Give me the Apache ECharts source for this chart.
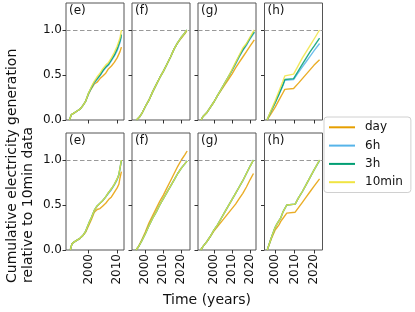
<!DOCTYPE html>
<html>
<head>
<meta charset="utf-8">
<script src="https://cdn.jsdelivr.net/npm/echarts@6/dist/echarts.min.js"></script>
<style>html,body{margin:0;padding:0;background:#fff}#c{width:415px;height:312px}</style>
</head>
<body>
<div id="c"></div>
<script>
// ---------------- data ----------------
const seriesNames = ['day', '6h', '3h', '10min'];
const panelLabels = ['(e)', '(f)', '(g)', '(h)'];
const yTicks = [0, 0.5, 1.0];
const yRange = [0, 1.3];
const refLevel = 1.0;

const xTicksE = [2000, 2010];
const xTicksFGH = [2000, 2010, 2020];
const xRangeE = [1992.1, 2012.4];
const xRangeF = [1992.6, 2024.8];
const xRangeG = [1991.2, 2023.3];
const xRangeH = [1994.6, 2024.3];

// top row
const yearsTopE = [1993.3, 1994, 1995, 1996, 1997, 1998, 1999, 2000, 2001, 2002, 2003, 2004, 2005, 2006, 2007, 2008, 2009, 2010, 2011, 2011.5];
const dayTopE  = [0, 0.06, 0.08, 0.10, 0.12, 0.16, 0.21, 0.29, 0.35, 0.40, 0.42, 0.46, 0.49, 0.52, 0.57, 0.60, 0.64, 0.69, 0.76, 0.81];
const h6TopE   = [0, 0.06, 0.08, 0.10, 0.12, 0.16, 0.21, 0.29, 0.36, 0.41, 0.45, 0.49, 0.54, 0.58, 0.61, 0.66, 0.71, 0.77, 0.86, 0.93];
const h3TopE   = [0, 0.06, 0.08, 0.10, 0.12, 0.16, 0.21, 0.30, 0.36, 0.42, 0.46, 0.50, 0.55, 0.59, 0.62, 0.67, 0.72, 0.79, 0.88, 0.95];
const m10TopE  = [0, 0.06, 0.08, 0.10, 0.12, 0.16, 0.21, 0.30, 0.37, 0.43, 0.48, 0.52, 0.57, 0.61, 0.64, 0.69, 0.75, 0.82, 0.91, 1.00];

const yearsTopF = [1995.1, 1996, 1997, 1998, 2000, 2002, 2004, 2006, 2008, 2010, 2012, 2014, 2016, 2018, 2020, 2022, 2023];
const dayTopF  = [0, 0.02, 0.04, 0.07, 0.15, 0.22, 0.31, 0.39, 0.47, 0.54, 0.62, 0.70, 0.79, 0.86, 0.91, 0.96, 0.99];
const h6TopF   = [0, 0.02, 0.04, 0.07, 0.15, 0.22, 0.31, 0.39, 0.47, 0.54, 0.62, 0.70, 0.79, 0.86, 0.92, 0.97, 1.00];
const h3TopF   = [0, 0.02, 0.04, 0.07, 0.15, 0.22, 0.31, 0.39, 0.47, 0.54, 0.62, 0.70, 0.79, 0.86, 0.92, 0.97, 1.00];
const m10TopF  = [0, 0.02, 0.04, 0.07, 0.15, 0.22, 0.31, 0.39, 0.47, 0.54, 0.62, 0.70, 0.79, 0.86, 0.92, 0.97, 1.00];

const yearsTopG = [1992.9, 1994, 1996, 1998, 2000, 2002, 2004, 2006, 2008, 2010, 2012, 2014, 2016, 2018, 2020, 2022, 2022.4];
const dayTopG  = [0, 0.04, 0.08, 0.14, 0.20, 0.27, 0.33, 0.39, 0.45, 0.51, 0.58, 0.64, 0.70, 0.76, 0.82, 0.88, 0.89];
const h6TopG   = [0, 0.04, 0.08, 0.14, 0.20, 0.27, 0.34, 0.41, 0.48, 0.55, 0.62, 0.70, 0.77, 0.83, 0.90, 0.96, 0.97];
const h3TopG   = [0, 0.04, 0.08, 0.14, 0.20, 0.27, 0.34, 0.41, 0.48, 0.55, 0.63, 0.71, 0.78, 0.84, 0.91, 0.97, 0.98];
const m10TopG  = [0, 0.04, 0.08, 0.14, 0.20, 0.27, 0.34, 0.41, 0.48, 0.56, 0.64, 0.72, 0.80, 0.85, 0.92, 0.99, 1.00];

const yearsTopH = [1995.9, 1998, 2000, 2002, 2004, 2005, 2009.5, 2012, 2014, 2016, 2018, 2020, 2022.8];
const dayTopH  = [0, 0.07, 0.14, 0.22, 0.30, 0.34, 0.35, 0.41, 0.46, 0.51, 0.56, 0.61, 0.67];
const h6TopH   = [0, 0.10, 0.19, 0.28, 0.38, 0.44, 0.45, 0.53, 0.59, 0.65, 0.71, 0.77, 0.85];
const h3TopH   = [0, 0.10, 0.19, 0.29, 0.39, 0.45, 0.46, 0.55, 0.62, 0.69, 0.76, 0.82, 0.91];
const m10TopH  = [0, 0.11, 0.21, 0.32, 0.43, 0.49, 0.51, 0.61, 0.69, 0.76, 0.83, 0.90, 1.00];

// bottom row
const yearsBotE = [1993.6, 1994.2, 1995, 1996, 1997, 1998, 1999, 2000, 2001, 2002, 2003, 2004, 2005, 2006, 2007, 2008, 2009, 2010, 2010.6, 2011, 2011.5];
const dayBotE  = [0, 0.07, 0.09, 0.11, 0.13, 0.16, 0.20, 0.27, 0.34, 0.42, 0.45, 0.46, 0.49, 0.52, 0.56, 0.59, 0.64, 0.69, 0.73, 0.80, 0.87];
const h6BotE   = [0, 0.07, 0.09, 0.11, 0.13, 0.16, 0.21, 0.29, 0.36, 0.44, 0.49, 0.52, 0.55, 0.59, 0.63, 0.67, 0.72, 0.78, 0.83, 0.90, 0.99];
const h3BotE   = [0, 0.07, 0.09, 0.11, 0.13, 0.16, 0.21, 0.29, 0.36, 0.44, 0.49, 0.52, 0.55, 0.59, 0.64, 0.68, 0.73, 0.79, 0.84, 0.91, 1.00];
const m10BotE  = [0, 0.07, 0.09, 0.11, 0.13, 0.16, 0.21, 0.29, 0.36, 0.44, 0.49, 0.52, 0.55, 0.59, 0.64, 0.68, 0.73, 0.79, 0.84, 0.91, 1.00];

const yearsBotF = [1994.8, 1996, 1998, 2000, 2002, 2004, 2006, 2008, 2010, 2012, 2014, 2016, 2018, 2020, 2022, 2023.2];
const dayBotF  = [0, 0.03, 0.11, 0.20, 0.30, 0.38, 0.46, 0.54, 0.61, 0.69, 0.77, 0.85, 0.93, 1.00, 1.06, 1.10];
const h6BotF   = [0, 0.03, 0.10, 0.18, 0.27, 0.35, 0.42, 0.50, 0.57, 0.64, 0.71, 0.78, 0.85, 0.91, 0.96, 0.99];
const h3BotF   = [0, 0.03, 0.10, 0.18, 0.27, 0.35, 0.42, 0.50, 0.57, 0.64, 0.71, 0.78, 0.85, 0.91, 0.96, 0.99];
const m10BotF  = [0, 0.03, 0.10, 0.18, 0.27, 0.35, 0.42, 0.50, 0.57, 0.64, 0.71, 0.78, 0.85, 0.91, 0.96, 0.99];

const yearsBotG = [1992.7, 1994, 1996, 1998, 2000, 2002, 2004, 2006, 2008, 2010, 2012, 2014, 2016, 2018, 2020, 2021.9];
const dayBotG  = [0, 0.04, 0.09, 0.15, 0.21, 0.26, 0.31, 0.36, 0.41, 0.46, 0.51, 0.57, 0.63, 0.70, 0.78, 0.85];
const h6BotG   = [0, 0.04, 0.09, 0.15, 0.22, 0.28, 0.35, 0.42, 0.49, 0.56, 0.63, 0.70, 0.77, 0.85, 0.93, 1.00];
const h3BotG   = [0, 0.04, 0.09, 0.15, 0.22, 0.28, 0.35, 0.42, 0.49, 0.56, 0.63, 0.70, 0.77, 0.85, 0.93, 1.00];
const m10BotG  = [0, 0.04, 0.09, 0.15, 0.22, 0.28, 0.35, 0.42, 0.49, 0.56, 0.63, 0.70, 0.77, 0.85, 0.93, 1.00];

const yearsBotH = [1996.0, 1998, 2000, 2001, 2002, 2003, 2004, 2006, 2010.3, 2012, 2014, 2016, 2018, 2020, 2022.8];
const dayBotH  = [0, 0.12, 0.22, 0.25, 0.28, 0.32, 0.35, 0.41, 0.42, 0.47, 0.53, 0.59, 0.65, 0.71, 0.79];
const h6BotH   = [0, 0.13, 0.25, 0.29, 0.30, 0.36, 0.42, 0.50, 0.51, 0.58, 0.65, 0.73, 0.81, 0.89, 0.99];
const h3BotH   = [0, 0.13, 0.25, 0.29, 0.30, 0.36, 0.42, 0.50, 0.51, 0.58, 0.65, 0.73, 0.81, 0.89, 1.00];
const m10BotH  = [0, 0.13, 0.25, 0.29, 0.30, 0.36, 0.42, 0.50, 0.51, 0.58, 0.65, 0.73, 0.81, 0.89, 1.00];

// ---------------- layout / style ----------------
const colors = ['#E69F00', '#56B4E9', '#009E73', '#F0E442'];
const FONT = 'DejaVu Sans';
const colLeft = [66, 132, 198, 264.5];
const colWidth = 58;
const rowTop = [3, 133];
const rowHeight = 117;

const panels = [
  {r:0,c:0,years:yearsTopE,s:[dayTopE,h6TopE,h3TopE,m10TopE],xr:xRangeE,xt:xTicksE},
  {r:0,c:1,years:yearsTopF,s:[dayTopF,h6TopF,h3TopF,m10TopF],xr:xRangeF,xt:xTicksFGH},
  {r:0,c:2,years:yearsTopG,s:[dayTopG,h6TopG,h3TopG,m10TopG],xr:xRangeG,xt:xTicksFGH},
  {r:0,c:3,years:yearsTopH,s:[dayTopH,h6TopH,h3TopH,m10TopH],xr:xRangeH,xt:xTicksFGH},
  {r:1,c:0,years:yearsBotE,s:[dayBotE,h6BotE,h3BotE,m10BotE],xr:xRangeE,xt:xTicksE},
  {r:1,c:1,years:yearsBotF,s:[dayBotF,h6BotF,h3BotF,m10BotF],xr:xRangeF,xt:xTicksFGH},
  {r:1,c:2,years:yearsBotG,s:[dayBotG,h6BotG,h3BotG,m10BotG],xr:xRangeG,xt:xTicksFGH},
  {r:1,c:3,years:yearsBotH,s:[dayBotH,h6BotH,h3BotH,m10BotH],xr:xRangeH,xt:xTicksFGH}
];

const grid = [], xAxis = [], yAxis = [], series = [], title = [];
panels.forEach((p, i) => {
  const L = colLeft[p.c], T = rowTop[p.r];
  grid.push({left: L, top: T, width: colWidth, height: rowHeight, show: true,
    borderColor: '#555', borderWidth: 1, backgroundColor: 'transparent', containLabel: false});
  xAxis.push({gridIndex: i, type: 'value', min: p.xr[0], max: p.xr[1],
    axisLine: {show: false}, splitLine: {show: false},
    axisTick: {show: true, customValues: p.xt, length: 3.5, inside: false, lineStyle: {color: '#333', width: 1}},
    axisLabel: {show: p.r === 1, customValues: p.xt, rotate: 90, margin: 4, fontSize: 12,
      fontFamily: FONT, color: '#111', formatter: v => String(v)}});
  yAxis.push({gridIndex: i, type: 'value', min: yRange[0], max: yRange[1],
    axisLine: {show: false}, splitLine: {show: false},
    axisTick: {show: true, customValues: yTicks, length: 3.5, inside: false, lineStyle: {color: '#333', width: 1}},
    axisLabel: {show: p.c === 0, customValues: yTicks, margin: 4, fontSize: 12,
      fontFamily: FONT, color: '#111', formatter: v => v.toFixed(1)}});
  title.push({text: panelLabels[p.c], left: L + 3, top: T + 2, padding: 0,
    textStyle: {fontSize: 12, fontWeight: 'normal', fontFamily: FONT, color: '#111'}});
  p.s.forEach((vals, k) => {
    const s = {
      name: seriesNames[k], type: 'line', xAxisIndex: i, yAxisIndex: i,
      data: p.years.map((y, j) => [y, vals[j]]),
      symbol: 'none', showSymbol: false, silent: true,
      lineStyle: {color: colors[k], width: 1.4, opacity: 0.85},
      itemStyle: {color: colors[k]}, z: 2 + k
    };
    if (k === 0) {
      s.markLine = {silent: true, symbol: ['none', 'none'], label: {show: false},
        lineStyle: {color: '#999', type: [4.5, 2.5], width: 1}, data: [{yAxis: refLevel}]};
    }
    series.push(s);
  });
});

const chart = echarts.init(document.getElementById('c'), null, {renderer: 'canvas'});
chart.setOption({
  animation: false,
  backgroundColor: '#fff',
  textStyle: {fontFamily: FONT},
  title: title,
  grid: grid, xAxis: xAxis, yAxis: yAxis, series: series,
  legend: {
    data: seriesNames, orient: 'vertical', left: 324, top: 117,
    icon: 'rect', itemWidth: 26, itemHeight: 2, itemGap: 4.3,
    padding: [3.3, 8, 3.3, 5],
    borderColor: '#d0d0d0', borderWidth: 1, borderRadius: 3, backgroundColor: '#fff',
    textStyle: {fontSize: 12, fontFamily: FONT, color: '#111', lineHeight: 14, padding: [0, 0, 0, 5]},
    selectedMode: false
  },
  graphic: [
    {type: 'text', x: 20, y: 283, rotation: Math.PI / 2,
     style: {text: 'Cumulative electricity generation\nrelative to 10min data', fill: '#111',
       font: '14px "DejaVu Sans"', textAlign: 'left', textVerticalAlign: 'middle', lineHeight: 16}},
    {type: 'text', x: 207, y: 300,
     style: {text: 'Time (years)', fill: '#111', font: '14px "DejaVu Sans"',
       textAlign: 'center', textVerticalAlign: 'middle'}}
  ]
});
</script>
</body>
</html>
